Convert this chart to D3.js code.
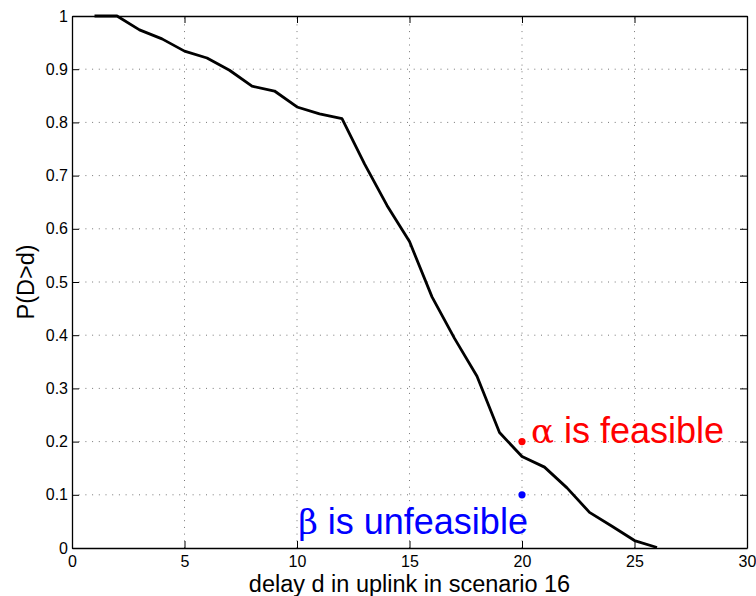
<!DOCTYPE html>
<html>
<head>
<meta charset="utf-8">
<script src="https://cdn.jsdelivr.net/npm/d3@7"></script>
<style>
    body { margin: 0; background: #fff; }
    text { font-family: "Liberation Sans", Arial, sans-serif; }
</style>
</head>
<body>
<div id="chart"></div>
<script>
// delay d (integer slots) and P(D>d)
const delays = [1, 2, 3, 4, 5, 6, 7, 8, 9, 10, 11, 12, 13, 14, 15, 16, 17, 18, 19, 20, 21, 22, 23, 24, 25, 26];
const probs = [1.0, 1.0, 0.974, 0.957, 0.934, 0.921, 0.898, 0.868, 0.859, 0.829, 0.816, 0.807,
               0.722, 0.644, 0.576, 0.472, 0.394, 0.323, 0.217, 0.172, 0.152, 0.113, 0.067, 0.041, 0.014, 0.001];

const xTicks = [0, 5, 10, 15, 20, 25, 30];
const yTicks = [0, 0.1, 0.2, 0.3, 0.4, 0.5, 0.6, 0.7, 0.8, 0.9, 1];

// the two marked points and their labels
const points = [
    {x: 20, y: 0.2, color: "#ff0000"},
    {x: 20, y: 0.1, color: "#0000ff"}
];
const labels = [
    {x: 20.4, y: 0.198, greek: "α", text: " is feasible", color: "#ff0000"},
    {x: 10.05, y: 0.027, greek: "β", text: " is unfeasible", color: "#0000ff"}
];

const width = 756, height = 596;
const margin = {top: 16, right: 9, bottom: 48, left: 72};

const svg = d3.select("#chart").append("svg")
    .attr("width", width)
    .attr("height", height);

const x = d3.scaleLinear().domain([0, 30]).range([margin.left, width - margin.right]);
const y = d3.scaleLinear().domain([0, 1]).range([height - margin.bottom, margin.top]);

// dotted grid (interior only)
let grid = svg.append("g");
grid.selectAll("line.gx")
    .data(xTicks.slice(1, -1))
    .enter().append("line")
    .attr("x1", d => x(d)).attr("x2", d => x(d))
    .attr("y1", y(0)).attr("y2", y(1))
    .attr("stroke", "#777").attr("stroke-width", 1)
    .attr("stroke-dasharray", "1,5.7");
grid.selectAll("line.gy")
    .data(yTicks.slice(1, -1))
    .enter().append("line")
    .attr("y1", d => y(d)).attr("y2", d => y(d))
    .attr("x1", x(0)).attr("x2", x(30))
    .attr("stroke", "#777").attr("stroke-width", 1)
    .attr("stroke-dasharray", "1,5.7");

// axes: ticks point inwards, box on all four sides
const tickLen = 7;
svg.append("g")
    .attr("transform", `translate(0,${y(0)})`)
    .call(d3.axisBottom(x).tickValues(xTicks).tickSizeInner(-tickLen).tickSizeOuter(0).tickPadding(8).tickFormat(d3.format("d")));
svg.append("g")
    .attr("transform", `translate(${x(0)},0)`)
    .call(d3.axisLeft(y).tickValues(yTicks).tickSizeInner(-tickLen).tickSizeOuter(0).tickPadding(4).tickFormat(d => d));
svg.append("g")
    .attr("transform", `translate(0,${y(1)})`)
    .call(d3.axisTop(x).tickValues(xTicks).tickSizeInner(-tickLen).tickSizeOuter(0).tickFormat(""));
svg.append("g")
    .attr("transform", `translate(${x(30)},0)`)
    .call(d3.axisRight(y).tickValues(yTicks).tickSizeInner(-tickLen).tickSizeOuter(0).tickFormat(""));

svg.selectAll(".domain").attr("stroke", "#000").attr("stroke-width", 1.3);
svg.selectAll(".tick line").attr("stroke", "#000");
svg.selectAll(".tick text")
    .attr("font-family", "Liberation Sans, Arial, sans-serif")
    .attr("font-size", 16)
    .attr("fill", "#000");

// curve
const line = d3.line().x((d, i) => x(delays[i])).y(d => y(d));
svg.append("path")
    .datum(probs)
    .attr("d", line)
    .attr("fill", "none")
    .attr("stroke", "#000")
    .attr("stroke-width", 2.8)
    .attr("stroke-linejoin", "round");

// marked points
svg.selectAll("circle")
    .data(points)
    .enter().append("circle")
    .attr("cx", d => x(d.x))
    .attr("cy", d => y(d.y))
    .attr("r", 3.6)
    .attr("fill", d => d.color);

let ann = svg.selectAll("text.ann")
    .data(labels)
    .enter().append("text")
    .attr("class", "ann")
    .attr("x", d => x(d.x))
    .attr("y", d => y(d.y))
    .attr("font-size", 36)
    .attr("fill", d => d.color);
ann.append("tspan")
    .attr("font-family", "DejaVu Serif, serif")
    .attr("font-size", 34)
    .text(d => d.greek);
ann.append("tspan")
    .text(d => d.text);

// axis labels
svg.append("text")
    .attr("x", x(15))
    .attr("y", height - 4)
    .attr("text-anchor", "middle")
    .attr("font-size", 23.5)
    .text("delay d in uplink in scenario 16");

svg.append("text")
    .attr("transform", `translate(34,${y(0.5)}) rotate(-90)`)
    .attr("text-anchor", "middle")
    .attr("font-size", 23.5)
    .text("P(D>d)");
</script>
</body>
</html>
